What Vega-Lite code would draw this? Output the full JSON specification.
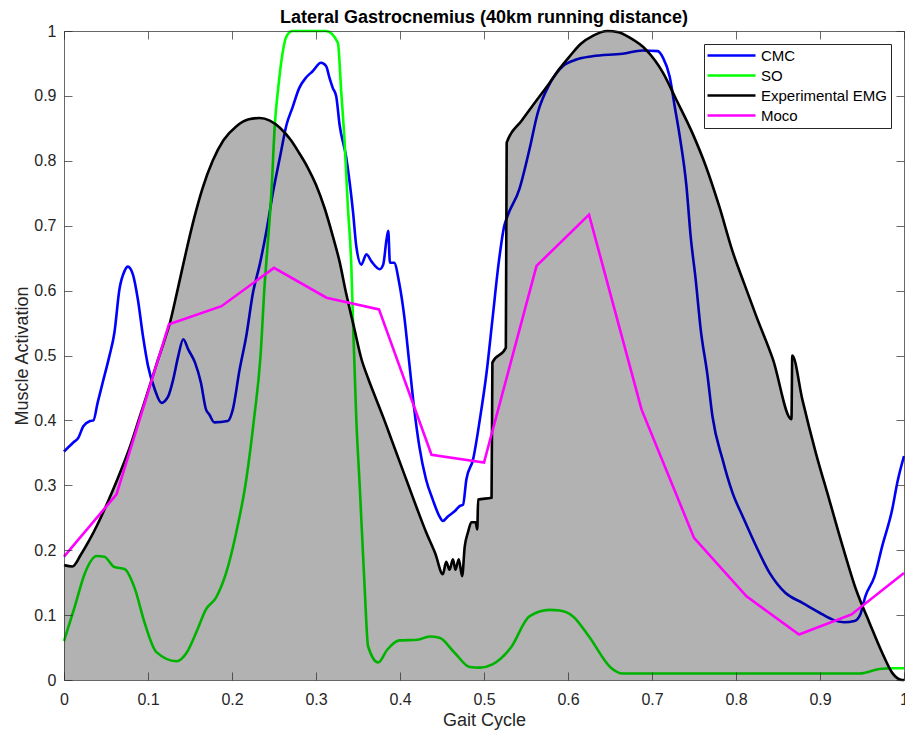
{
  "$schema": "https://vega.github.io/schema/vega-lite/v6.json",
  "width": 840,
  "height": 649,
  "autosize": {"type": "none"},
  "padding": {"left": 64, "top": 31, "right": 1, "bottom": 55},
  "background": "white",
  "title": {"text": "Lateral Gastrocnemius (40km running distance)", "font": "Liberation Sans", "fontSize": 18, "fontWeight": "bold", "color": "#000000", "anchor": "middle", "frame": "group", "offset": 4, "dy": 8},
  "config": {"view": {"stroke": null}, "font": "Liberation Sans"},
  "data": {"values": [
    {"s":"CMC","x":0,"y":0.352},{"s":"CMC","x":0.011,"y":0.366},{"s":"CMC","x":0.017,"y":0.373},{"s":"CMC","x":0.023,"y":0.391},{"s":"CMC","x":0.031,"y":0.399},{"s":"CMC","x":0.035,"y":0.4},{"s":"CMC","x":0.04,"y":0.427},{"s":"CMC","x":0.046,"y":0.458},{"s":"CMC","x":0.054,"y":0.499},{"s":"CMC","x":0.06,"y":0.535},{"s":"CMC","x":0.066,"y":0.602},{"s":"CMC","x":0.072,"y":0.63},{"s":"CMC","x":0.076,"y":0.637},{"s":"CMC","x":0.082,"y":0.625},{"s":"CMC","x":0.088,"y":0.586},{"s":"CMC","x":0.094,"y":0.53},{"s":"CMC","x":0.1,"y":0.484},{"s":"CMC","x":0.108,"y":0.448},{"s":"CMC","x":0.116,"y":0.427},{"s":"CMC","x":0.124,"y":0.437},{"s":"CMC","x":0.13,"y":0.463},{"s":"CMC","x":0.136,"y":0.499},{"s":"CMC","x":0.142,"y":0.525},{"s":"CMC","x":0.148,"y":0.509},{"s":"CMC","x":0.156,"y":0.489},{"s":"CMC","x":0.163,"y":0.458},{"s":"CMC","x":0.169,"y":0.417},{"s":"CMC","x":0.173,"y":0.409},{"s":"CMC","x":0.179,"y":0.397},{"s":"CMC","x":0.195,"y":0.399},{"s":"CMC","x":0.201,"y":0.417},{"s":"CMC","x":0.209,"y":0.478},{"s":"CMC","x":0.217,"y":0.53},{"s":"CMC","x":0.225,"y":0.597},{"s":"CMC","x":0.233,"y":0.64},{"s":"CMC","x":0.241,"y":0.692},{"s":"CMC","x":0.249,"y":0.753},{"s":"CMC","x":0.257,"y":0.805},{"s":"CMC","x":0.265,"y":0.856},{"s":"CMC","x":0.272,"y":0.882},{"s":"CMC","x":0.28,"y":0.912},{"s":"CMC","x":0.288,"y":0.928},{"s":"CMC","x":0.296,"y":0.938},{"s":"CMC","x":0.306,"y":0.951},{"s":"CMC","x":0.312,"y":0.946},{"s":"CMC","x":0.316,"y":0.928},{"s":"CMC","x":0.32,"y":0.912},{"s":"CMC","x":0.324,"y":0.9},{"s":"CMC","x":0.328,"y":0.856},{"s":"CMC","x":0.336,"y":0.805},{"s":"CMC","x":0.344,"y":0.722},{"s":"CMC","x":0.348,"y":0.668},{"s":"CMC","x":0.354,"y":0.64},{"s":"CMC","x":0.36,"y":0.656},{"s":"CMC","x":0.366,"y":0.645},{"s":"CMC","x":0.376,"y":0.633},{"s":"CMC","x":0.38,"y":0.64},{"s":"CMC","x":0.384,"y":0.679},{"s":"CMC","x":0.386,"y":0.692},{"s":"CMC","x":0.388,"y":0.643},{"s":"CMC","x":0.393,"y":0.643},{"s":"CMC","x":0.399,"y":0.612},{"s":"CMC","x":0.405,"y":0.561},{"s":"CMC","x":0.411,"y":0.489},{"s":"CMC","x":0.417,"y":0.417},{"s":"CMC","x":0.423,"y":0.36},{"s":"CMC","x":0.431,"y":0.309},{"s":"CMC","x":0.439,"y":0.278},{"s":"CMC","x":0.447,"y":0.252},{"s":"CMC","x":0.451,"y":0.245},{"s":"CMC","x":0.457,"y":0.252},{"s":"CMC","x":0.465,"y":0.26},{"s":"CMC","x":0.471,"y":0.268},{"s":"CMC","x":0.475,"y":0.27},{"s":"CMC","x":0.479,"y":0.309},{"s":"CMC","x":0.487,"y":0.34},{"s":"CMC","x":0.495,"y":0.401},{"s":"CMC","x":0.503,"y":0.473},{"s":"CMC","x":0.51,"y":0.555},{"s":"CMC","x":0.518,"y":0.648},{"s":"CMC","x":0.524,"y":0.699},{"s":"CMC","x":0.528,"y":0.715},{"s":"CMC","x":0.542,"y":0.756},{"s":"CMC","x":0.554,"y":0.817},{"s":"CMC","x":0.564,"y":0.874},{"s":"CMC","x":0.578,"y":0.918},{"s":"CMC","x":0.594,"y":0.946},{"s":"CMC","x":0.61,"y":0.956},{"s":"CMC","x":0.629,"y":0.961},{"s":"CMC","x":0.665,"y":0.965},{"s":"CMC","x":0.689,"y":0.97},{"s":"CMC","x":0.707,"y":0.969},{"s":"CMC","x":0.713,"y":0.959},{"s":"CMC","x":0.721,"y":0.93},{"s":"CMC","x":0.727,"y":0.884},{"s":"CMC","x":0.733,"y":0.838},{"s":"CMC","x":0.741,"y":0.761},{"s":"CMC","x":0.746,"y":0.684},{"s":"CMC","x":0.752,"y":0.617},{"s":"CMC","x":0.758,"y":0.54},{"s":"CMC","x":0.766,"y":0.47},{"s":"CMC","x":0.772,"y":0.406},{"s":"CMC","x":0.784,"y":0.34},{"s":"CMC","x":0.796,"y":0.288},{"s":"CMC","x":0.808,"y":0.252},{"s":"CMC","x":0.824,"y":0.206},{"s":"CMC","x":0.84,"y":0.165},{"s":"CMC","x":0.859,"y":0.134},{"s":"CMC","x":0.879,"y":0.119},{"s":"CMC","x":0.899,"y":0.104},{"s":"CMC","x":0.915,"y":0.093},{"s":"CMC","x":0.929,"y":0.089},{"s":"CMC","x":0.941,"y":0.091},{"s":"CMC","x":0.948,"y":0.101},{"s":"CMC","x":0.954,"y":0.129},{"s":"CMC","x":0.965,"y":0.16},{"s":"CMC","x":0.974,"y":0.206},{"s":"CMC","x":0.986,"y":0.263},{"s":"CMC","x":0.992,"y":0.304},{"s":"CMC","x":1,"y":0.345},
    {"s":"SO","x":0,"y":0.06},{"s":"SO","x":0.013,"y":0.114},{"s":"SO","x":0.025,"y":0.165},{"s":"SO","x":0.039,"y":0.191},{"s":"SO","x":0.048,"y":0.19},{"s":"SO","x":0.06,"y":0.174},{"s":"SO","x":0.072,"y":0.171},{"s":"SO","x":0.084,"y":0.142},{"s":"SO","x":0.096,"y":0.088},{"s":"SO","x":0.11,"y":0.043},{"s":"SO","x":0.134,"y":0.029},{"s":"SO","x":0.146,"y":0.042},{"s":"SO","x":0.158,"y":0.075},{"s":"SO","x":0.169,"y":0.109},{"s":"SO","x":0.181,"y":0.127},{"s":"SO","x":0.193,"y":0.165},{"s":"SO","x":0.205,"y":0.227},{"s":"SO","x":0.217,"y":0.309},{"s":"SO","x":0.226,"y":0.4},{"s":"SO","x":0.234,"y":0.5},{"s":"SO","x":0.239,"y":0.612},{"s":"SO","x":0.242,"y":0.663},{"s":"SO","x":0.247,"y":0.753},{"s":"SO","x":0.251,"y":0.856},{"s":"SO","x":0.255,"y":0.912},{"s":"SO","x":0.265,"y":0.992},{"s":"SO","x":0.272,"y":1},{"s":"SO","x":0.312,"y":1},{"s":"SO","x":0.326,"y":0.982},{"s":"SO","x":0.33,"y":0.907},{"s":"SO","x":0.334,"y":0.83},{"s":"SO","x":0.338,"y":0.728},{"s":"SO","x":0.342,"y":0.64},{"s":"SO","x":0.344,"y":0.555},{"s":"SO","x":0.348,"y":0.401},{"s":"SO","x":0.352,"y":0.3},{"s":"SO","x":0.355,"y":0.22},{"s":"SO","x":0.358,"y":0.14},{"s":"SO","x":0.362,"y":0.052},{"s":"SO","x":0.374,"y":0.027},{"s":"SO","x":0.385,"y":0.047},{"s":"SO","x":0.399,"y":0.061},{"s":"SO","x":0.421,"y":0.062},{"s":"SO","x":0.435,"y":0.067},{"s":"SO","x":0.447,"y":0.065},{"s":"SO","x":0.465,"y":0.042},{"s":"SO","x":0.483,"y":0.02},{"s":"SO","x":0.495,"y":0.019},{"s":"SO","x":0.51,"y":0.024},{"s":"SO","x":0.532,"y":0.05},{"s":"SO","x":0.554,"y":0.098},{"s":"SO","x":0.578,"y":0.108},{"s":"SO","x":0.59,"y":0.107},{"s":"SO","x":0.606,"y":0.098},{"s":"SO","x":0.625,"y":0.067},{"s":"SO","x":0.651,"y":0.019},{"s":"SO","x":0.665,"y":0.01},{"s":"SO","x":0.947,"y":0.01},{"s":"SO","x":0.971,"y":0.017},{"s":"SO","x":0.986,"y":0.018},{"s":"SO","x":1,"y":0.018},
    {"s":"Experimental EMG","x":0,"y":0.177},{"s":"Experimental EMG","x":0.01,"y":0.175},{"s":"Experimental EMG","x":0.02,"y":0.193},{"s":"Experimental EMG","x":0.03,"y":0.215},{"s":"Experimental EMG","x":0.04,"y":0.24},{"s":"Experimental EMG","x":0.05,"y":0.268},{"s":"Experimental EMG","x":0.06,"y":0.298},{"s":"Experimental EMG","x":0.07,"y":0.33},{"s":"Experimental EMG","x":0.08,"y":0.365},{"s":"Experimental EMG","x":0.09,"y":0.405},{"s":"Experimental EMG","x":0.1,"y":0.445},{"s":"Experimental EMG","x":0.11,"y":0.486},{"s":"Experimental EMG","x":0.12,"y":0.525},{"s":"Experimental EMG","x":0.126,"y":0.55},{"s":"Experimental EMG","x":0.135,"y":0.6},{"s":"Experimental EMG","x":0.145,"y":0.658},{"s":"Experimental EMG","x":0.155,"y":0.712},{"s":"Experimental EMG","x":0.165,"y":0.758},{"s":"Experimental EMG","x":0.177,"y":0.8},{"s":"Experimental EMG","x":0.19,"y":0.832},{"s":"Experimental EMG","x":0.205,"y":0.853},{"s":"Experimental EMG","x":0.22,"y":0.864},{"s":"Experimental EMG","x":0.233,"y":0.866},{"s":"Experimental EMG","x":0.245,"y":0.862},{"s":"Experimental EMG","x":0.257,"y":0.851},{"s":"Experimental EMG","x":0.27,"y":0.832},{"s":"Experimental EMG","x":0.28,"y":0.812},{"s":"Experimental EMG","x":0.29,"y":0.79},{"s":"Experimental EMG","x":0.3,"y":0.763},{"s":"Experimental EMG","x":0.31,"y":0.728},{"s":"Experimental EMG","x":0.32,"y":0.684},{"s":"Experimental EMG","x":0.328,"y":0.645},{"s":"Experimental EMG","x":0.336,"y":0.595},{"s":"Experimental EMG","x":0.345,"y":0.545},{"s":"Experimental EMG","x":0.354,"y":0.495},{"s":"Experimental EMG","x":0.362,"y":0.465},{"s":"Experimental EMG","x":0.37,"y":0.438},{"s":"Experimental EMG","x":0.38,"y":0.405},{"s":"Experimental EMG","x":0.39,"y":0.37},{"s":"Experimental EMG","x":0.4,"y":0.335},{"s":"Experimental EMG","x":0.41,"y":0.3},{"s":"Experimental EMG","x":0.42,"y":0.265},{"s":"Experimental EMG","x":0.431,"y":0.228},{"s":"Experimental EMG","x":0.442,"y":0.195},{"s":"Experimental EMG","x":0.451,"y":0.163},{"s":"Experimental EMG","x":0.455,"y":0.182},{"s":"Experimental EMG","x":0.459,"y":0.17},{"s":"Experimental EMG","x":0.463,"y":0.186},{"s":"Experimental EMG","x":0.466,"y":0.17},{"s":"Experimental EMG","x":0.47,"y":0.186},{"s":"Experimental EMG","x":0.474,"y":0.16},{"s":"Experimental EMG","x":0.477,"y":0.205},{"s":"Experimental EMG","x":0.481,"y":0.228},{"s":"Experimental EMG","x":0.485,"y":0.243},{"s":"Experimental EMG","x":0.49,"y":0.243},{"s":"Experimental EMG","x":0.492,"y":0.232},{"s":"Experimental EMG","x":0.493,"y":0.278},{"s":"Experimental EMG","x":0.509,"y":0.281},{"s":"Experimental EMG","x":0.51,"y":0.489},{"s":"Experimental EMG","x":0.526,"y":0.512},{"s":"Experimental EMG","x":0.527,"y":0.828},{"s":"Experimental EMG","x":0.545,"y":0.862},{"s":"Experimental EMG","x":0.562,"y":0.892},{"s":"Experimental EMG","x":0.578,"y":0.92},{"s":"Experimental EMG","x":0.59,"y":0.942},{"s":"Experimental EMG","x":0.602,"y":0.961},{"s":"Experimental EMG","x":0.615,"y":0.98},{"s":"Experimental EMG","x":0.63,"y":0.993},{"s":"Experimental EMG","x":0.647,"y":1},{"s":"Experimental EMG","x":0.66,"y":0.998},{"s":"Experimental EMG","x":0.673,"y":0.99},{"s":"Experimental EMG","x":0.693,"y":0.971},{"s":"Experimental EMG","x":0.713,"y":0.936},{"s":"Experimental EMG","x":0.729,"y":0.894},{"s":"Experimental EMG","x":0.748,"y":0.843},{"s":"Experimental EMG","x":0.764,"y":0.792},{"s":"Experimental EMG","x":0.78,"y":0.73},{"s":"Experimental EMG","x":0.796,"y":0.66},{"s":"Experimental EMG","x":0.81,"y":0.61},{"s":"Experimental EMG","x":0.824,"y":0.561},{"s":"Experimental EMG","x":0.844,"y":0.494},{"s":"Experimental EMG","x":0.866,"y":0.402},{"s":"Experimental EMG","x":0.867,"y":0.5},{"s":"Experimental EMG","x":0.879,"y":0.432},{"s":"Experimental EMG","x":0.895,"y":0.35},{"s":"Experimental EMG","x":0.911,"y":0.278},{"s":"Experimental EMG","x":0.927,"y":0.206},{"s":"Experimental EMG","x":0.943,"y":0.139},{"s":"Experimental EMG","x":0.959,"y":0.088},{"s":"Experimental EMG","x":0.974,"y":0.042},{"s":"Experimental EMG","x":0.986,"y":0.011},{"s":"Experimental EMG","x":0.998,"y":0},{"s":"Experimental EMG","x":1,"y":0},
    {"s":"Moco","x":0,"y":0.19},{"s":"Moco","x":0.0625,"y":0.286},{"s":"Moco","x":0.125,"y":0.548},{"s":"Moco","x":0.1875,"y":0.576},{"s":"Moco","x":0.25,"y":0.635},{"s":"Moco","x":0.3125,"y":0.589},{"s":"Moco","x":0.375,"y":0.571},{"s":"Moco","x":0.4375,"y":0.347},{"s":"Moco","x":0.5,"y":0.335},{"s":"Moco","x":0.5625,"y":0.638},{"s":"Moco","x":0.625,"y":0.717},{"s":"Moco","x":0.6875,"y":0.417},{"s":"Moco","x":0.75,"y":0.219},{"s":"Moco","x":0.8125,"y":0.129},{"s":"Moco","x":0.875,"y":0.07},{"s":"Moco","x":0.9375,"y":0.101},{"s":"Moco","x":1,"y":0.165}
  ]},
  "resolve": {"axis": {"x": "independent", "y": "independent"}},
  "layer": [
    {
      "transform": [{"filter": "datum.s === 'CMC'"}],
      "mark": {"type": "line", "strokeWidth": 2.6, "interpolate": "monotone"},
      "encoding": {
        "x": {"field": "x", "type": "quantitative", "scale": {"domain": [0, 1], "nice": false, "zero": false},
          "axis": {"orient": "bottom", "values": [0, 0.1, 0.2, 0.3, 0.4, 0.5, 0.6, 0.7, 0.8, 0.9, 1], "format": "~g", "grid": false, "zindex": 1,
            "domainColor": "#262626", "domainWidth": 0.7, "tickColor": "#262626", "tickWidth": 0.7, "tickSize": -8,
            "labelFont": "Liberation Sans", "labelFontSize": 16, "labelColor": "#262626", "labelPadding": 19, "labelFlush": false, "labelOverlap": false,
            "title": "Gait Cycle", "titleFont": "Liberation Sans", "titleFontSize": 18, "titleFontWeight": "normal", "titleColor": "#262626", "titlePadding": 4}},
        "y": {"field": "y", "type": "quantitative", "scale": {"domain": [0, 1], "nice": false, "zero": false},
          "axis": {"orient": "left", "values": [0, 0.1, 0.2, 0.3, 0.4, 0.5, 0.6, 0.7, 0.8, 0.9, 1], "format": "~g", "grid": false, "zindex": 1,
            "domainColor": "#262626", "domainWidth": 0.7, "tickColor": "#262626", "tickWidth": 0.7, "tickSize": -8,
            "labelFont": "Liberation Sans", "labelFontSize": 16, "labelColor": "#262626", "labelPadding": 16, "labelFlush": false, "labelOverlap": false,
            "title": "Muscle Activation", "titleFont": "Liberation Sans", "titleFontSize": 18, "titleFontWeight": "normal", "titleColor": "#262626", "titlePadding": 2}},
        "color": {"field": "s", "type": "nominal",
          "scale": {"domain": ["CMC", "SO", "Experimental EMG", "Moco"], "range": ["#0000ff", "#00ff00", "#000000", "#ff00ff"]},
          "legend": {"title": null, "orient": "none", "legendX": 640, "legendY": 13, "symbolType": "M-4,0H4", "symbolSize": 144, "symbolOffset": 16, "symbolStrokeWidth": 2.6,
            "labelFont": "Liberation Sans", "labelFontSize": 15, "labelColor": "#000000", "labelOffset": 22, "rowPadding": 4, "padding": 4,
            "fillColor": "#ffffff", "strokeColor": "#262626", "cornerRadius": 0}}
      }
    },
    {
      "transform": [{"filter": "datum.s === 'SO'"}],
      "mark": {"type": "line", "strokeWidth": 2.6, "interpolate": "monotone"},
      "encoding": {
        "x": {"field": "x", "type": "quantitative",
          "axis": {"orient": "top", "values": [0, 0.1, 0.2, 0.3, 0.4, 0.5, 0.6, 0.7, 0.8, 0.9, 1], "labels": false, "title": null, "grid": false, "zindex": 1,
            "domainColor": "#262626", "domainWidth": 0.7, "tickColor": "#262626", "tickWidth": 0.7, "tickSize": -8}},
        "y": {"field": "y", "type": "quantitative",
          "axis": {"orient": "right", "values": [0, 0.1, 0.2, 0.3, 0.4, 0.5, 0.6, 0.7, 0.8, 0.9, 1], "labels": false, "title": null, "grid": false, "zindex": 1,
            "domainColor": "#262626", "domainWidth": 0.7, "tickColor": "#262626", "tickWidth": 0.7, "tickSize": -8}},
        "color": {"field": "s", "type": "nominal"}
      }
    },
    {
      "transform": [{"filter": "datum.s === 'Experimental EMG'"}],
      "mark": {"type": "area", "fill": "#000000", "fillOpacity": 0.3, "interpolate": "monotone"},
      "encoding": {
        "x": {"field": "x", "type": "quantitative", "axis": null},
        "y": {"field": "y", "type": "quantitative", "axis": null}
      }
    },
    {
      "transform": [{"filter": "datum.s === 'Experimental EMG'"}],
      "mark": {"type": "line", "strokeWidth": 2.6, "interpolate": "monotone"},
      "encoding": {
        "x": {"field": "x", "type": "quantitative", "axis": null},
        "y": {"field": "y", "type": "quantitative", "axis": null},
        "color": {"field": "s", "type": "nominal"}
      }
    },
    {
      "transform": [{"filter": "datum.s === 'Moco'"}],
      "mark": {"type": "line", "strokeWidth": 2.6},
      "encoding": {
        "x": {"field": "x", "type": "quantitative", "axis": null},
        "y": {"field": "y", "type": "quantitative", "axis": null},
        "color": {"field": "s", "type": "nominal"}
      }
    }
  ]
}
